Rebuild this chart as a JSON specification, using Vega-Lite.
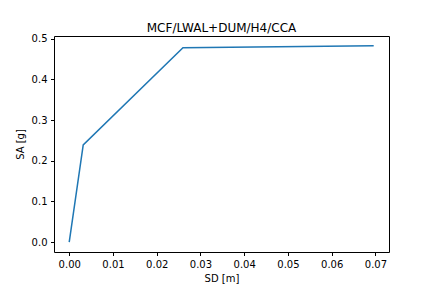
{
  "$schema": "https://vega.github.io/schema/vega-lite/v6.json",
  "autosize": "none",
  "width": 335,
  "height": 216,
  "padding": {"left": 54, "top": 36, "right": 43, "bottom": 36},
  "background": "white",
  "title": {"text": "MCF/LWAL+DUM/H4/CCA", "font": "DejaVu Sans", "fontSize": 12, "fontWeight": "normal", "color": "black", "offset": 5, "dy": 6},
  "config": {
    "view": {"stroke": "black", "strokeWidth": 1},
    "axis": {"grid": false, "domain": false, "tickColor": "black", "tickSize": 3.5, "labelFont": "DejaVu Sans", "labelFontSize": 10, "labelColor": "black", "titleFont": "DejaVu Sans", "titleFontSize": 10, "titleFontWeight": "normal", "titleColor": "black", "labelPadding": 3.5}
  },
  "data": {"values": [
    {"sd": 0.0, "sa": 0.0},
    {"sd": 0.0032, "sa": 0.239},
    {"sd": 0.0260, "sa": 0.4776},
    {"sd": 0.0696, "sa": 0.4825}
  ]},
  "mark": {"type": "line", "color": "#1f77b4", "strokeWidth": 1.5, "clip": true},
  "encoding": {
    "x": {"field": "sd", "type": "quantitative", "title": "SD [m]",
      "scale": {"domain": [-0.00348, 0.0731], "nice": false, "zero": false},
      "axis": {"values": [0, 0.01, 0.02, 0.03, 0.04, 0.05, 0.06, 0.07], "format": ".2f", "titlePadding": 4}},
    "y": {"field": "sa", "type": "quantitative", "title": "SA [g]",
      "scale": {"domain": [-0.0241, 0.5066], "nice": false, "zero": false},
      "axis": {"values": [0, 0.1, 0.2, 0.3, 0.4, 0.5], "format": ".1f", "titlePadding": 6}}
  }
}
